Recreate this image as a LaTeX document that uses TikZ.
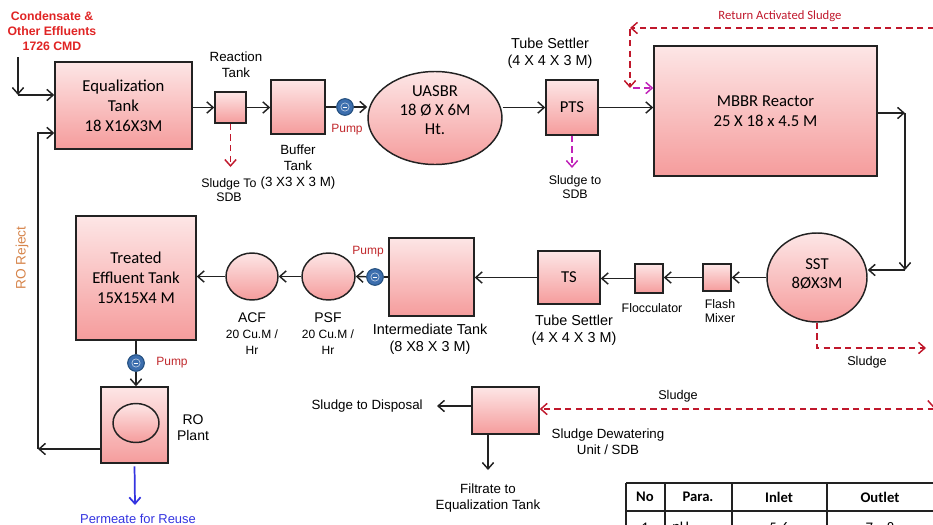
\documentclass[tikz,border=0pt]{standalone}
\usepackage{fontspec}
\setmainfont{Liberation Sans}
\newfontfamily\calibri{Carlito}
\usetikzlibrary{arrows.meta,shapes.geometric}
\definecolor{boxtop}{HTML}{FDE6E6}
\definecolor{boxbot}{HTML}{F59C9C}
\definecolor{sred}{HTML}{C0182C}
\definecolor{mag}{HTML}{C022B8}
\definecolor{pumpblue}{HTML}{3C6EAE}
\definecolor{pumpdark}{HTML}{24507F}
\definecolor{permblue}{HTML}{3434E0}
\definecolor{rorange}{HTML}{D6844A}
\definecolor{inred}{HTML}{E02424}
\definecolor{pumpred}{HTML}{C0282C}
\definecolor{edge}{HTML}{222222}
\tikzset{
  tank/.style={draw=edge, line width=1.1pt, top color=boxtop, bottom color=boxbot,
    font=\calibri\fontsize{12.5}{15}\selectfont, align=center, inner sep=0pt},
  rtank/.style={tank, rectangle},
  etank/.style={tank, ellipse},
  boxtxt/.style={font=\calibri\fontsize{12.5}{14}\selectfont, align=center, inner sep=0pt},
  lbl/.style={font=\fontsize{10}{12}\selectfont, align=center, inner sep=0pt},
  slbl/.style={font=\fontsize{9.3}{11}\selectfont, align=center, inner sep=0pt},
  blbl/.style={font=\fontsize{10.8}{12.8}\selectfont, align=center, inner sep=0pt},
  pumplbl/.style={font=\fontsize{9}{11}\selectfont, text=pumpred, inner sep=0pt},
  tip/.style={-{Straight Barb[length=4.8pt,width=8.5pt]}},
  flow/.style={draw=edge, line width=1.1pt, tip},
  pipe/.style={draw=edge, line width=1.1pt},
  sdash/.style={draw=sred, line width=1.1pt, dash pattern=on 4.8pt off 3.2pt, tip},
  mdash/.style={sdash, draw=mag},
  pump/.style={circle, fill=pumpblue, draw=pumpdark, line width=0.8pt, minimum size=12.5pt, inner sep=0pt,
    path picture={\draw[pumpblue!35!white, line width=0.5pt] (path picture bounding box.center) circle (3.1pt);
      \draw[white, line width=0.6pt] ([xshift=-1.8pt]path picture bounding box.center) -- ([xshift=1.8pt]path picture bounding box.center);}},
  tline/.style={draw=edge, line width=0.9pt},
  thead/.style={font=\calibri\bfseries\fontsize{11}{13}\selectfont, inner sep=0pt},
  tcell/.style={font=\calibri\fontsize{11}{13}\selectfont, inner sep=0pt},
}
\begin{document}
\begin{tikzpicture}[x=0.75pt, y=-0.75pt]
\useasboundingbox (0,0) rectangle (933,525);
\clip (0,0) rectangle (933,525);

% ---------- top row ----------
\node[font=\bfseries\fontsize{9.2}{11.25}\selectfont, text=inred, align=center, inner sep=0pt] (inlbl) at (52,31) {Condensate \&\\Other Effluents\\1726 CMD};
\coordinate (in0) at (18,57);
\coordinate (in1) at (18,95);

\node[rtank, minimum width=102.75pt, minimum height=65.25pt] (eq) at (123.5,105.5) {Equalization\\Tank\\18 X16X3M};
\node[rtank, minimum size=23.25pt] (react) at (230.5,107.5) {};
\node[lbl] (reactlbl) at (236,65) {Reaction\\Tank};
\node[rtank, minimum size=40.5pt] (buffer) at (298,107) {};
\node[lbl] (bufferlbl) at (298,167) {Buffer\\Tank\\(3 X3 X 3 M)};
\node[slbl] (sdb1lbl) at (229,190) {Sludge To\\SDB};
\coordinate (rs) at (230.5,167);

\node[pump] (pump1) at (345,107) {};
\node[pumplbl] (pump1lbl) at (347,130) {Pump};

\node[etank, minimum width=100.5pt, minimum height=69.75pt] (uasbr) at (435,118) {};
\node[boxtxt] (uasbrtxt) at (435,110) {UASBR\\18 Ø X 6M\\Ht.};

\node[rtank, minimum width=39pt, minimum height=41.25pt] (pts) at (572,107.5) {PTS};
\node[blbl] (ptslbl) at (550,53) {Tube Settler\\(4 X 4 X 3 M)};
\node[slbl] (sdb2lbl) at (575,187) {Sludge to\\SDB};
\coordinate (ps) at (572,168);

\node[rtank, minimum width=167.25pt, minimum height=97.5pt] (mbbr) at (765.5,111) {MBBR Reactor\\25 X 18 x 4.5 M};
\node[font=\calibri\fontsize{9.5}{11}\selectfont, text=sred, inner sep=0pt] (raslbl) at (780,16) {Return Activated Sludge};
\coordinate (rasR) at (934,28);
\coordinate (rasL) at (630,28);
\coordinate (rasD) at (630,88);

% ---------- middle row ----------
\node[etank, minimum width=75pt, minimum height=66.75pt] (sst) at (817,277.5) {};
\node[boxtxt] (ssttxt) at (817,274) {SST\\8ØX3M};
\coordinate (ms) at (905,113);
\coordinate (ms2) at (905,270);

\node[rtank, minimum width=21pt, minimum height=20.25pt] (flash) at (717,277.5) {};
\node[slbl] (flashlbl) at (720,311) {Flash\\Mixer};
\node[rtank, minimum width=21pt, minimum height=21.75pt] (flocc) at (649,278.5) {};
\node[slbl] (flocclbl) at (652,308) {Flocculator};
\node[rtank, minimum width=46.5pt, minimum height=39.75pt] (ts) at (569,277.5) {TS};
\node[blbl] (tslbl) at (574,330.5) {Tube Settler\\(4 X 4 X 3 M)};
\node[rtank, minimum width=63.75pt, minimum height=58.5pt] (inter) at (431.5,277) {};
\node[blbl] (interlbl) at (430,339) {Intermediate Tank\\(8 X8 X 3 M)};
\node[pump] (pump2) at (375,277) {};
\node[pumplbl] (pump2lbl) at (368,252) {Pump};
\node[etank, minimum width=39.75pt, minimum height=35.25pt] (psf) at (328.5,276.5) {};
\node[lbl] (psflbl) at (328,334) {\fontsize{10.5}{12.5}\selectfont PSF\\\fontsize{9}{11.5}\selectfont 20 Cu.M /\\\fontsize{9}{11.5}\selectfont Hr};
\node[etank, minimum width=39pt, minimum height=35.25pt] (acf) at (252,276.5) {};
\node[lbl] (acflbl) at (252,334) {\fontsize{10.5}{12.5}\selectfont ACF\\\fontsize{9}{11.5}\selectfont 20 Cu.M /\\\fontsize{9}{11.5}\selectfont Hr};
\node[rtank, minimum width=90pt, minimum height=93pt] (treated) at (136,278) {Treated\\Effluent Tank\\15X15X4 M};

% ---------- bottom ----------
\node[pump] (pump3) at (136,363) {};
\node[pumplbl] (pump3lbl) at (172,363) {Pump};
\node[rtank, minimum width=50.25pt, minimum height=57pt] (ro) at (134.5,425) {};
\node[etank, minimum width=34.5pt, minimum height=29.25pt] (roin) at (136,423) {};
\node[lbl] (rolbl) at (193,428) {\fontsize{10.5}{12}\selectfont RO\\\fontsize{10.5}{12}\selectfont Plant};
\coordinate (perm) at (135,505);
\node[font=\fontsize{9.7}{11}\selectfont, text=permblue, inner sep=0pt] (permlbl) at (138,519) {Permeate for Reuse};
\coordinate (rj) at (38,449);
\node[font=\fontsize{10.3}{12}\selectfont, text=rorange, rotate=90, inner sep=0pt] (rjlbl) at (22,258) {RO Reject};

\node[lbl] (sslbl) at (867,362) {\fontsize{9.5}{11}\selectfont Sludge};
\coordinate (ss2) at (926,348);
\coordinate (rv1) at (933.5,28);
\coordinate (rv2) at (933.5,408);

\node[rtank, minimum width=50.25pt, minimum height=35.25pt] (sdb) at (505.5,410.5) {};
\node[lbl] (sdblbl) at (608,442) {Sludge Dewatering\\Unit / SDB};
\coordinate (sl) at (934,409);
\node[lbl] (sl2lbl) at (678,396) {\fontsize{9.5}{11}\selectfont Sludge};
\coordinate (disp) at (437,406);
\node[lbl, anchor=east] (displbl) at (423,406) {Sludge to Disposal};
\coordinate (filt) at (488,470);
\node[lbl] (filtlbl) at (488,498) {Filtrate to\\Equalization Tank};

% ---------- connectors ----------
\draw[flow] (in0) -- (in1);
\draw[flow] (in1) -- (in1 -| eq.west);
\draw[flow] (eq.east |- react) -- (react.west);
\draw[sdash] (react.south) -- (rs);
\draw[flow] (react.east) -- (react.east -| buffer.west);
\draw[pipe] (buffer.east) -- (pump1);
\draw[flow] (pump1) -- (pump1 -| uasbr.west);
\draw[flow] (uasbr.east |- pts) -- (pts.west);
\draw[mdash] (pts.south) -- (ps);
\draw[flow] (pts.east) -- (pts.east -| mbbr.west);
\draw[sdash] (rasR) -- (rasL);
\draw[sdash] ([yshift=-1pt]rasL) -- (rasD);
\draw[mdash] ([xshift=2.5pt]rasD) -- (rasD -| mbbr.west);

\draw[flow] (mbbr.east |- ms) -- (ms);
\draw[flow] (ms) -- (ms2);
\draw[flow] (ms2) -- (ms2 -| sst.east);
\draw[flow] (sst.west) -- (sst.west -| flash.east);
\draw[flow] (flash.west) -- (flash.west -| flocc.east);
\draw[flow] (flocc.west) -- (flocc.west -| ts.east);
\draw[flow] (ts.west) -- (ts.west -| inter.east);
\draw[pipe] (inter.west) -- (pump2);
\draw[flow] (pump2) -- (psf.east);
\draw[flow] (psf.west) -- (acf.east);
\draw[flow] (acf.west) -- (acf.west -| treated.east);

\draw[pipe] (treated.south) -- (pump3);
\draw[flow] (pump3) -- (pump3 |- ro.north);
\draw[permblue, line width=1.3pt, tip, shorten <=2pt] (ro.south) -- (perm);
\draw[flow] (ro.west |- rj) -- (rj);
\draw[flow] (rj) |- ([yshift=-20.6pt]eq.west);

\draw[sdash] (sst.south) |- (ss2);
\draw[sdash] (rv1) -- (rv2);
\draw[sdash] (sl) -- (sl -| sdb.east);
\draw[flow] (sdb.west |- disp) -- (disp);
\draw[flow] (sdb.south -| filt) -- (filt);

% ---------- table ----------
\draw[tline] (626,483) -- (950,483);
\draw[tline] (626,511) -- (950,511);
\draw[tline] (626,483) -- (626,540);
\draw[tline] (665,483) -- (665,540);
\draw[tline] (732,483) -- (732,540);
\draw[tline] (827,483) -- (827,540);
\node[thead] (hno) at (645,497) {No};
\node[thead] (hpara) at (698,497) {Para.};
\node[thead] (hinlet) at (779,497) {Inlet};
\node[thead] (houtlet) at (880,497) {Outlet};
\node[tcell] (c1) at (645,528) {1};
\node[tcell, anchor=west] (c2) at (672,528) {pH};
\node[tcell] (c3) at (779,528) {5-6};
\node[tcell] (c4) at (880,528) {7 – 8};
\end{tikzpicture}
\end{document}
